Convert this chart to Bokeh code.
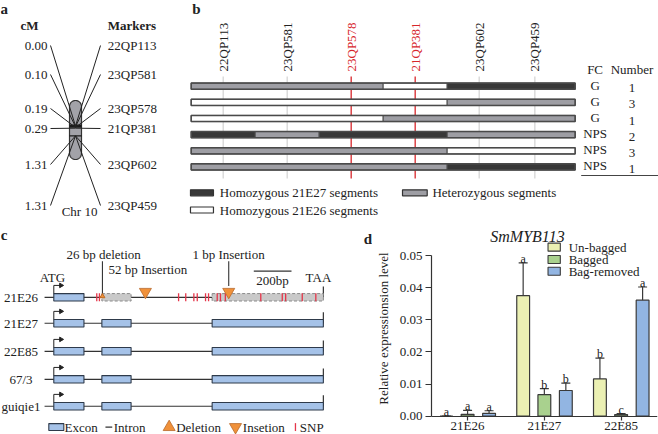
import numpy as np
from bokeh.plotting import figure
from bokeh.layouts import column, row
from bokeh.models import (Range1d, ColumnDataSource, FixedTicker, Whisker, TeeHead,
                          NumeralTickFormatter)
from bokeh.core.properties import value
from bokeh.embed import file_html
from bokeh.resources import INLINE

SERIF = "Liberation Serif"
INK = "#222222"
RED = "#d7262b"

# ---------------- data ----------------
# (a) genetic map of chromosome 10
markers = ["22QP113", "23QP581", "23QP578", "21QP381", "23QP602", "23QP459"]
marker_cm = [0.00, 0.10, 0.19, 0.29, 1.31, 1.31]

# (b) graphical genotypes of recombinants (call at each marker)
marker_pos = [0.0, 1.0, 2.0, 3.0, 4.0, 4.87]
candidate_markers = ["23QP578", "21QP381"]
genotype_calls = [
    ["het", "het", "het", "h26", "h27", "h27"],
    ["h26", "h26", "h26", "h26", "het", "het"],
    ["h26", "h26", "h26", "het", "het", "het"],
    ["h27", "het", "h27", "h27", "het", "het"],
    ["het", "het", "het", "het", "h26", "h26"],
    ["het", "het", "het", "het", "h27", "h27"],
]
fc_class = ["G", "G", "G", "NPS", "NPS", "NPS"]
plant_number = [1, 3, 1, 2, 3, 1]
genotype_colors = {"h27": "#383838", "het": "#9e9ea4", "h26": "#ffffff"}

# (c) SmMYB113 gene structure (bp from ATG)
accessions = ["21E26", "21E27", "22E85", "67/3", "guiqie1"]
exon_start = [0, 255, 840]
exon_end = [160, 410, 1430]
snp_bp = [228, 242, 662, 700, 743, 761, 805, 821, 867, 884, 910,
          1098, 1212, 1230, 1318, 1390]
deletion_bp = 258
insertion_52_bp = 486
insertion_1_bp = 928

# (d) relative expression of SmMYB113
genotypes = ["21E26", "21E27", "22E85"]
treatments = ["Un-bagged", "Bagged", "Bag-removed"]
unbagged_mean = [0.0000, 0.0375, 0.0116]
unbagged_sd = [0.0000, 0.0102, 0.0065]
bagged_mean = [0.0006, 0.0067, 0.0005]
bagged_sd = [0.0012, 0.0019, 0.0003]
removed_mean = [0.0009, 0.0080, 0.0361]
removed_sd = [0.0008, 0.0023, 0.0041]
unbagged_letters = ["a", "a", "b"]
bagged_letters = ["a", "b", "c"]
removed_letters = ["a", "b", "a"]
treatment_colors = ["#ebf0b3", "#a9d18e", "#92b5e2"]


def blank(width, height, x_range, y_range):
    p = figure(width=width, height=height, x_range=x_range, y_range=y_range,
               toolbar_location=None, output_backend="svg",
               x_axis_type=None, y_axis_type=None, min_border=0)
    p.outline_line_color = None
    p.background_fill_color = "white"
    p.border_fill_color = "white"
    return p


def txt(p, x, y, t, size="13px", align="left", baseline="middle", color=INK,
        style="normal", angle=0):
    p.text(x=x, y=y, text=t, text_font=value(SERIF), text_font_size=size,
           text_align=align, text_baseline=baseline, text_color=color,
           text_font_style=style, angle=angle)


# ================= panel a =================
pa = blank(180, 220, Range1d(0, 180), Range1d(220, 0))
label_y = [45, 74, 108, 128, 164, 205]
chrom_x = 75
band_y = 125.5
cm_scale = 7.5
chrom_y = [band_y + c * cm_scale for c in marker_cm]

th = np.linspace(0, np.pi, 24)
r = 6
cap_xs = np.concatenate([chrom_x + r * np.cos(th), chrom_x - r * np.cos(th)])
cap_ys = np.concatenate([106 - r * np.sin(th), 153 + r * np.sin(th)])
pa.patch(cap_xs, cap_ys, fill_color="#a2a2a8", line_color="#333333", line_width=1.2)
pa.quad(left=chrom_x - r, right=chrom_x + r, top=band_y - 1.5, bottom=band_y + 1.8,
        fill_color="#1a1a1a", line_color=None)
pa.segment(x0=chrom_x - r, y0=band_y + 1.31 * cm_scale, x1=chrom_x + r,
           y1=band_y + 1.31 * cm_scale, line_color="#1a1a1a", line_width=1.2)

xs, ys = [], []
for ly, cy in zip(label_y, chrom_y):
    xs.append([50, chrom_x, 100])
    ys.append([ly, cy, ly])
pa.multi_line(xs, ys, line_color=INK, line_width=1)

txt(pa, [47] * 6, label_y, [f"{c:.2f}" for c in marker_cm], align="right")
txt(pa, [107.3] * 6, label_y, markers)
txt(pa, [29], [25], ["cM"], align="center", style="bold")
txt(pa, [107.3], [25], ["Markers"], style="bold")
txt(pa, [79], [211], ["Chr 10"], align="center")
txt(pa, [0], [8], ["a"], size="15px", style="bold")

# ================= panel b =================
pb = blank(478, 220, Range1d(-0.667, 6.802), Range1d(220, 0))
row_y0, row_step, bar_h = 85.7, 16.15, 6.2
bar_start, bar_end = -0.5, 5.5
grid_col = [RED if m in candidate_markers else "#d2d2d2" for m in markers]
pb.segment(x0=marker_pos, y0=[76] * 6, x1=marker_pos, y1=[178] * 6,
           line_color=grid_col, line_width=[1.3 if c == RED else 1.2 for c in grid_col])
txt(pb, marker_pos, [71] * 6, markers, angle=np.pi / 2,
    color=[RED if m in candidate_markers else INK for m in markers])

mids = [(marker_pos[i] + marker_pos[i + 1]) / 2 for i in range(len(marker_pos) - 1)]
seg = dict(left=[], right=[], top=[], bottom=[], color=[])
for i, calls in enumerate(genotype_calls):
    y = row_y0 + i * row_step
    bounds = [bar_start] + mids + [bar_end]
    start = 0
    for k in range(1, len(calls) + 1):
        if k == len(calls) or calls[k] != calls[start]:
            seg["left"].append(bounds[start])
            seg["right"].append(bounds[k])
            seg["top"].append(y - bar_h / 2)
            seg["bottom"].append(y + bar_h / 2)
            seg["color"].append(genotype_colors[calls[start]])
            start = k
pb.quad(source=ColumnDataSource(seg), left="left", right="right", top="top",
        bottom="bottom", fill_color="color", line_color="#4a4a4a", line_width=1)
rows_y = [row_y0 + i * row_step for i in range(len(genotype_calls))]
pb.quad(left=bar_start, right=bar_end, top=[y - bar_h / 2 for y in rows_y],
        bottom=[y + bar_h / 2 for y in rows_y], fill_color=None,
        line_color="#4a4a4a", line_width=1.5)

fc_x, num_x = 5.811, 6.388
txt(pb, [fc_x], [68.5], ["FC"], align="center")
txt(pb, [num_x], [68.5], ["Number"], align="center")
txt(pb, [fc_x] * 6, [y - 1 for y in rows_y], fc_class, align="center")
txt(pb, [num_x] * 6, [y + 2 for y in rows_y], [str(n) for n in plant_number], align="center")
pb.segment(x0=5.594, y0=175, x1=6.802, y1=175, line_color="#444444", line_width=1)

leg_sw = dict(left=[-0.511, 2.802, -0.511], right=[-0.152, 3.188, -0.152],
              y=[192.3, 192.3, 209.5],
              color=[genotype_colors["h27"], genotype_colors["het"], genotype_colors["h26"]])
pb.quad(left=leg_sw["left"], right=leg_sw["right"],
        top=[y - 3 for y in leg_sw["y"]], bottom=[y + 3 for y in leg_sw["y"]],
        fill_color=leg_sw["color"], line_color="#333333", line_width=1.2)
txt(pb, [-0.053, 3.27, -0.053], leg_sw["y"],
    ["Homozygous 21E27 segments", "Heterozygous segments", "Homozygous 21E26 segments"])
txt(pb, [-0.484], [8], ["b"], size="15px", style="bold")

# ================= panel c =================
px_per_bp = 0.1885
atg_px = 53.3
pc = blank(372, 214, Range1d(-atg_px / px_per_bp, (372 - atg_px) / px_per_bp),
           Range1d(214, 0))
crow_y = [75.5, 101.7, 130.0, 158.3, 185.5]
exon_h = 7.5
gene_end = exon_end[-1]

pc.segment(x0=-49, y0=crow_y, x1=gene_end, y1=crow_y, line_color="#333333", line_width=1.2)
# start arrows and stop ticks
pc.multi_line([[0, 0, 34] for _ in crow_y], [[y - 3.5, y - 12, y - 12] for y in crow_y],
              line_color="#222222", line_width=1)
pc.scatter(x=[38] * len(crow_y), y=[y - 12 for y in crow_y], marker="triangle", size=4.5,
           angle=-np.pi / 2, fill_color="#222222", line_color="#222222")
pc.segment(x0=gene_end, y0=[y - 11 for y in crow_y], x1=gene_end, y1=crow_y,
           line_color="#333333", line_width=1.2)

solid = dict(left=[], right=[], top=[], bottom=[])
dashed = dict(left=[], right=[], top=[], bottom=[])
for i, y in enumerate(crow_y):
    for k, (s, e) in enumerate(zip(exon_start, exon_end)):
        d = dashed if (i == 0 and k > 0) else solid
        d["left"].append(s)
        d["right"].append(e)
        d["top"].append(y - exon_h / 2)
        d["bottom"].append(y + exon_h / 2)
pc.quad(**solid, fill_color="#a5c2e8", line_color="#2e3a4a", line_width=1.1)
pc.quad(**dashed, fill_color="#c9c9c9", line_color="#8a8a8a", line_width=1, line_dash="3 2")

y0 = crow_y[0]
pc.segment(x0=snp_bp, y0=y0 - 4, x1=snp_bp, y1=y0 + 4, line_color="#e5364a", line_width=1.3)
# deletion / insertion callouts
pc.segment(x0=[deletion_bp, insertion_1_bp], y0=[39, 39], x1=[deletion_bp, insertion_1_bp],
           y1=[y0, 64], line_color="#333333", line_width=1.1)
pc.scatter(x=[deletion_bp], y=[y0 - 1], marker="triangle", size=5,
           fill_color="#f0913a", line_color="#c06a20")
pc.scatter(x=[insertion_52_bp, insertion_1_bp], y=[y0 - 5.5, y0 - 5.5],
           marker="inverted_triangle", size=12, fill_color="#f0913a", line_color="#b8682a",
           line_width=0.8)
txt(pc, [264], [32], ["26 bp deletion"], align="center")
txt(pc, [290], [47], ["52 bp Insertion"])
txt(pc, [927], [32], ["1 bp Insertion"], align="center")
txt(pc, [-7], [56], ["ATG"], align="center")
txt(pc, [1404], [56], ["TAA"], align="center")
pc.segment(x0=1061, y0=49, x1=1261, y1=49, line_color="#333333", line_width=1.2)
txt(pc, [1160], [58.5], ["200bp"], align="center")
txt(pc, [-174] * len(accessions), crow_y, accessions, align="center")
txt(pc, [-282], [13], ["c"], size="15px", style="bold")
txt(pc, [1644], [17], ["d"], size="15px", style="bold")

# legend row
ly = 206.5
pc.quad(left=-26.5, right=53.1, top=ly - 3.5, bottom=ly + 3.5, fill_color="#a5c2e8",
        line_color="#2e3a4a", line_width=1.1)
pc.segment(x0=274, y0=ly, x1=310, y1=ly, line_color="#333333", line_width=1.3)
pc.scatter(x=[612], y=[ly], marker="triangle", size=12, fill_color="#f0913a",
           line_color="#b8682a", line_width=0.8)
pc.scatter(x=[964], y=[ly], marker="inverted_triangle", size=12, fill_color="#f0913a",
           line_color="#b8682a", line_width=0.8)
pc.segment(x0=1282, y0=ly - 4, x1=1282, y1=ly + 4, line_color="#e5364a", line_width=1.3)
txt(pc, [56.8, 318, 649, 1003, 1305], [ly] * 5,
    ["Excon", "Intron", "Deletion", "Insetion", "SNP"])

# ================= panel d =================
pdx = figure(width=286, height=214, x_range=Range1d(-0.47, 2.474),
             y_range=Range1d(-0.00569, 0.06027), toolbar_location=None,
             output_backend="svg", min_border_left=55, min_border_right=1,
             min_border_top=2, min_border_bottom=0)
pdx.outline_line_color = None
pdx.grid.visible = False

offsets = [-0.276, 0.0, 0.28]
bar_w = 0.167
means = [unbagged_mean, bagged_mean, removed_mean]
sds = [unbagged_sd, bagged_sd, removed_sd]
letters = [unbagged_letters, bagged_letters, removed_letters]
for off, m, s, lt, col in zip(offsets, means, sds, letters, treatment_colors):
    xs_ = [i + off for i in range(len(genotypes))]
    hi = [a + b for a, b in zip(m, s)]
    src = ColumnDataSource(dict(x=xs_, top=m, hi=hi, lab=lt))
    pdx.vbar(x="x", top="top", bottom=0, width=bar_w, source=src, fill_color=col,
             line_color="#3a3a3a", line_width=1.2)
    pdx.add_layout(Whisker(base="x", lower="top", upper="hi", source=src,
                           line_color="#3a3a3a", line_width=1.2, lower_head=None,
                           upper_head=TeeHead(size=9, line_color="#3a3a3a", line_width=1.2)))
    pdx.text(x="x", y="hi", text="lab", source=src, y_offset=-4,
             text_font=value(SERIF), text_font_size="12px", text_align="center",
             text_baseline="alphabetic", text_color=INK)

# legend
leg_y = [0.0526, 0.04875, 0.0451]
pdx.rect(x=[1.128] * 3, y=leg_y, width=0.16, height=0.0025,
         fill_color=treatment_colors, line_color="#3a3a3a", line_width=1.1)
txt(pdx, [1.317] * 3, leg_y, treatments)
txt(pdx, [0.78], [0.0559], ["SmMYB113"], size="16px", align="center", style="italic")

for ax in (pdx.xaxis[0], pdx.yaxis[0]):
    ax.axis_line_color = "#333333"
    ax.axis_line_width = 1.2
    ax.major_tick_line_color = "#333333"
    ax.major_tick_line_width = 1.2
    ax.major_tick_in = 0
    ax.minor_tick_line_color = None
    ax.major_label_text_font = SERIF
    ax.major_label_text_font_size = "13px"
    ax.major_label_text_color = INK

pdx.yaxis.ticker = FixedTicker(ticks=[0, 0.01, 0.02, 0.03, 0.04, 0.05])
pdx.yaxis.formatter = NumeralTickFormatter(format="0.00")
pdx.yaxis.bounds = (0, 0.05)
pdx.yaxis.major_tick_out = 6
pdx.yaxis.major_label_standoff = 3
pdx.yaxis.axis_label = "Relative expressionsion level"
pdx.yaxis.axis_label_text_font = SERIF
pdx.yaxis.axis_label_text_font_size = "13px"
pdx.yaxis.axis_label_text_font_style = "normal"
pdx.yaxis.axis_label_text_color = INK
pdx.yaxis.axis_label_standoff = 6

pdx.xaxis.ticker = FixedTicker(ticks=list(range(len(genotypes))))
pdx.xaxis.major_label_overrides = {i: g for i, g in enumerate(genotypes)}
pdx.xaxis.major_tick_out = 4
pdx.xaxis.major_label_standoff = -2
pdx.xaxis.fixed_location = 0

layout = column(row(pa, pb), row(pc, pdx))
open("out.html", "w").write(file_html(layout, INLINE))
